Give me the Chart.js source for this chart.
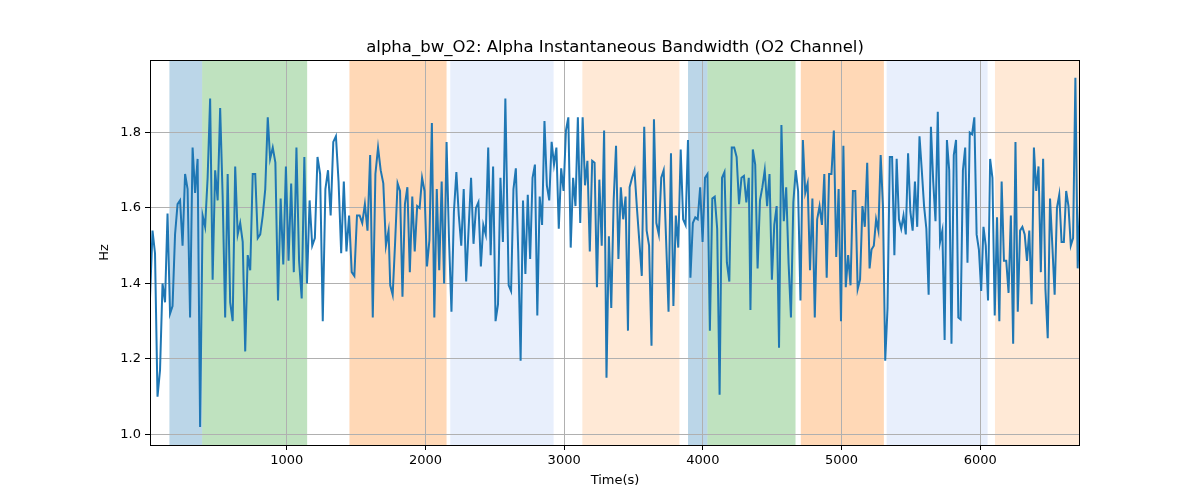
<!DOCTYPE html>
<html>
<head>
<meta charset="utf-8">
<script src="https://cdn.jsdelivr.net/npm/chart.js@4.4.0/dist/chart.umd.min.js"></script>
<style>
  html, body { margin: 0; padding: 0; background: #ffffff; }
  #wrap { width: 1200px; height: 500px; position: relative; }
</style>
</head>
<body>
<div id="wrap"><canvas id="c" width="1200" height="500"></canvas></div>
<script>
// ---- Data ----
const titleText = "alpha_bw_O2: Alpha Instantaneous Bandwidth (O2 Channel)";
const xLabel = "Time(s)";
const yLabel = "Hz";

// time extent (s) of each chunk of samples
const chunkStart = [14, 880, 1746, 2600, 3472, 4343, 5216, 6071];
const chunkEnd   = [863, 1734, 2576, 3460, 4331, 5202, 6056, 6719];

const seg1 = [1.36, 1.54, 1.48, 1.10, 1.17, 1.40, 1.35, 1.585, 1.32, 1.34, 1.53, 1.61, 1.62, 1.50, 1.69, 1.65, 1.31, 1.76, 1.64, 1.73, 1.02, 1.58, 1.55, 1.68, 1.89, 1.41, 1.70, 1.62, 1.865, 1.63, 1.31, 1.69, 1.35, 1.30, 1.71, 1.53, 1.56, 1.51, 1.22, 1.475, 1.435, 1.69, 1.69, 1.52, 1.53, 1.58, 1.65, 1.84];
const seg2 = [1.73, 1.76, 1.72, 1.355, 1.625, 1.45, 1.71, 1.46, 1.665, 1.43, 1.76, 1.46, 1.36, 1.735, 1.40, 1.62, 1.50, 1.52, 1.735, 1.69, 1.30, 1.65, 1.70, 1.58, 1.775, 1.79, 1.67, 1.48, 1.67, 1.485, 1.58, 1.43, 1.42, 1.58, 1.58, 1.56, 1.61, 1.54, 1.74, 1.31, 1.69, 1.76, 1.70, 1.665, 1.50, 1.54];
const seg3 = [1.395, 1.37, 1.51, 1.665, 1.645, 1.365, 1.61, 1.655, 1.43, 1.63, 1.485, 1.605, 1.60, 1.68, 1.645, 1.445, 1.515, 1.825, 1.31, 1.65, 1.435, 1.67, 1.40, 1.775, 1.515, 1.325, 1.59, 1.695, 1.58, 1.50, 1.65, 1.405, 1.545, 1.68, 1.505, 1.60, 1.615, 1.445, 1.555, 1.53, 1.76, 1.475, 1.71, 1.30, 1.345, 1.68, 1.51, 1.89];
const seg4 = [1.395, 1.38, 1.65, 1.705, 1.485, 1.195, 1.62, 1.425, 1.635, 1.465, 1.68, 1.715, 1.315, 1.63, 1.555, 1.83, 1.66, 1.62, 1.775, 1.715, 1.76, 1.545, 1.705, 1.645, 1.805, 1.84, 1.495, 1.68, 1.605, 1.84, 1.56, 1.84, 1.66, 1.725, 1.485, 1.725, 1.72, 1.39, 1.675, 1.50, 1.805, 1.15, 1.525, 1.335, 1.62, 1.765, 1.465, 1.655, 1.57, 1.63, 1.275];
const seg5 = [1.655, 1.68, 1.70, 1.60, 1.51, 1.42, 1.815, 1.54, 1.50, 1.235, 1.835, 1.56, 1.53, 1.68, 1.70, 1.515, 1.325, 1.745, 1.34, 1.58, 1.495, 1.755, 1.57, 1.555, 1.78, 1.415, 1.56, 1.575, 1.57, 1.655, 1.51, 1.68, 1.69, 1.275, 1.625, 1.63, 1.545, 1.105, 1.68, 1.695, 1.455, 1.405, 1.76, 1.76, 1.735, 1.61, 1.68, 1.685, 1.615, 1.68];
const seg6 = [1.33, 1.755, 1.715, 1.44, 1.62, 1.655, 1.70, 1.605, 1.69, 1.41, 1.555, 1.605, 1.23, 1.82, 1.565, 1.655, 1.455, 1.31, 1.615, 1.70, 1.645, 1.355, 1.78, 1.64, 1.665, 1.435, 1.625, 1.31, 1.57, 1.605, 1.555, 1.69, 1.415, 1.69, 1.69, 1.805, 1.47, 1.65, 1.30, 1.765, 1.39, 1.475, 1.395, 1.645, 1.645, 1.385, 1.41, 1.605, 1.55, 1.72, 1.44];
const seg7 = [1.49, 1.50, 1.57, 1.54, 1.74, 1.605, 1.195, 1.335, 1.735, 1.735, 1.475, 1.73, 1.57, 1.545, 1.58, 1.53, 1.745, 1.59, 1.54, 1.67, 1.55, 1.79, 1.70, 1.605, 1.545, 1.37, 1.815, 1.67, 1.565, 1.855, 1.51, 1.54, 1.25, 1.78, 1.70, 1.24, 1.74, 1.78, 1.31, 1.305, 1.70, 1.76, 1.455, 1.80, 1.795, 1.84, 1.53, 1.49, 1.38, 1.55, 1.50, 1.355];
const seg8 = [1.73, 1.68, 1.315, 1.575, 1.30, 1.67, 1.46, 1.46, 1.375, 1.58, 1.24, 1.775, 1.325, 1.54, 1.55, 1.53, 1.46, 1.54, 1.345, 1.76, 1.645, 1.71, 1.43, 1.73, 1.385, 1.255, 1.625, 1.50, 1.37, 1.60, 1.635, 1.51, 1.51, 1.645, 1.605, 1.50, 1.52, 1.945, 1.44, 1.61];
const segments = [seg1, seg2, seg3, seg4, seg5, seg6, seg7, seg8];

// shaded state intervals (s)
const spanStart = [154, 390, 1452, 2179, 3131, 3893, 4033, 4706, 5325, 6106];
const spanEnd   = [390, 1147, 2152, 2924, 3831, 4033, 4668, 5305, 6053, 6719];
const spanKind  = ["blue", "green", "orange", "lightblue", "lightorange", "blue", "green", "orange", "lightblue", "lightorange"];

const xTickValues = [1000, 2000, 3000, 4000, 5000, 6000];
const yTickValues = [1.0, 1.2, 1.4, 1.6, 1.8];
const xRange = [14, 6719];
const yRange = [0.972, 1.992];

// ---- Styles ----
const spanFill = {
  blue: "rgba(31,119,180,0.3)",
  green: "rgba(44,160,44,0.3)",
  orange: "rgba(255,127,14,0.3)",
  lightblue: "rgba(100,149,237,0.15)",
  lightorange: "rgba(255,127,14,0.17)"
};
const FONT = "'DejaVu Sans', 'Liberation Sans', sans-serif";

// build points
const points = [];
segments.forEach((seg, k) => {
  const a = chunkStart[k], b = chunkEnd[k];
  const n = seg.length;
  seg.forEach((v, i) => {
    points.push({ x: a + (b - a) * (n > 1 ? i / (n - 1) : 0), y: v });
  });
});

const PLOT = { left: 150, right: 1080, top: 60, bottom: 445 };

const spansPlugin = {
  id: "spans",
  beforeDraw(chart) {
    const { ctx, chartArea, scales } = chart;
    ctx.save();
    ctx.beginPath();
    ctx.rect(chartArea.left, chartArea.top, chartArea.right - chartArea.left, chartArea.bottom - chartArea.top);
    ctx.clip();
    for (let i = 0; i < spanStart.length; i++) {
      const x0 = scales.x.getPixelForValue(spanStart[i]);
      const x1 = scales.x.getPixelForValue(spanEnd[i]);
      ctx.fillStyle = spanFill[spanKind[i]];
      ctx.fillRect(x0, chartArea.top, x1 - x0, chartArea.bottom - chartArea.top);
    }
    ctx.restore();
  },
  afterDraw(chart) {
    const { ctx, chartArea } = chart;
    ctx.save();
    ctx.strokeStyle = "#000000";
    ctx.lineWidth = 1;
    ctx.strokeRect(Math.round(chartArea.left) + 0.5, Math.round(chartArea.top) + 0.5,
      Math.round(chartArea.right - chartArea.left) - 1, Math.round(chartArea.bottom - chartArea.top));
    ctx.fillStyle = "#000000";
    // title
    ctx.font = "16.5px " + FONT;
    ctx.textAlign = "center";
    ctx.textBaseline = "alphabetic";
    ctx.fillText(titleText, (chartArea.left + chartArea.right) / 2, 52);
    // axis titles
    ctx.font = "13px " + FONT;
    ctx.textBaseline = "middle";
    ctx.fillText(xLabel, (chartArea.left + chartArea.right) / 2, 481);
    ctx.translate(105, (chartArea.top + chartArea.bottom) / 2);
    ctx.rotate(-Math.PI / 2);
    ctx.fillText(yLabel, 0, 0);
    ctx.restore();
  }
};

new Chart(document.getElementById("c"), {
  type: "line",
  data: {
    datasets: [{
      data: points,
      borderColor: "#1f77b4",
      borderWidth: 2,
      pointRadius: 0,
      fill: false,
      tension: 0
    }]
  },
  options: {
    responsive: false,
    animation: false,
    devicePixelRatio: 1,
    layout: { padding: { left: 0, right: 1200 - PLOT.right, top: PLOT.top, bottom: 0 } },
    plugins: { legend: { display: false }, tooltip: { enabled: false }, title: { display: false } },
    scales: {
      x: {
        type: "linear",
        min: xRange[0], max: xRange[1],
        afterBuildTicks(s) { s.ticks = xTickValues.map(v => ({ value: v })); },
        afterFit(s) { s.height = 500 - PLOT.bottom; },
        grid: { color: "#b0b0b0", lineWidth: 1, drawTicks: true, tickLength: 5, tickColor: "#000000" },
        border: { display: false },
        ticks: { color: "#000000", font: { family: FONT, size: 13 }, padding: 3, maxRotation: 0, autoSkip: false,
                 callback: v => String(v) },
        title: { display: false }
      },
      y: {
        type: "linear",
        min: yRange[0], max: yRange[1],
        afterBuildTicks(s) { s.ticks = yTickValues.map(v => ({ value: v })); },
        afterFit(s) { s.width = PLOT.left; },
        grid: { color: "#b0b0b0", lineWidth: 1, drawTicks: true, tickLength: 5, tickColor: "#000000" },
        border: { display: false },
        ticks: { color: "#000000", font: { family: FONT, size: 13 }, padding: 4, autoSkip: false,
                 callback: v => Number(v).toFixed(1) },
        title: { display: false }
      }
    }
  },
  plugins: [spansPlugin]
});
</script>
</body>
</html>
